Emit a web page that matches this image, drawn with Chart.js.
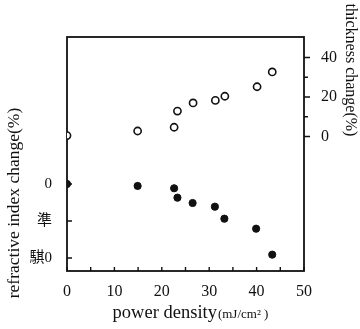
<!DOCTYPE html>
<html>
<head>
<meta charset="utf-8">
<script src="https://cdn.jsdelivr.net/npm/chart.js@4.4.0/dist/chart.umd.min.js"></script>
<style>
  html, body { margin:0; padding:0; background:#fff; }
  #wrap { width:360px; height:329px; }
</style>
</head>
<body>
<div id="wrap"><canvas id="c"></canvas></div>
<script>
// ── Data ─────────────────────────────────────────────────────
const powerThick = [0, 14.9, 22.6, 23.3, 26.6, 31.3, 33.3, 40.1, 43.3];
const thickness  = [0.5, 2.8, 4.7, 12.9, 17.0, 18.3, 20.4, 25.2, 32.7];

const powerIndex = [0, 14.9, 22.6, 23.3, 26.5, 31.2, 33.2, 39.9, 43.3];
const refIndex   = [0, -0.27, -0.58, -1.85, -2.57, -3.07, -4.69, -6.04, -9.55];

const xTicks      = [0, 10, 20, 30, 40, 50];
const leftTicks   = [0, -5, -10];
const leftLabels  = ['0', '準', '騏0'];
const rightTicks  = [0, 10, 20, 30, 40];

const SERIF = "'Liberation Serif','Noto Sans CJK SC',serif";
const INK   = '#111';

const toPts = (xs, ys) => xs.map((x, i) => ({ x, y: ys[i] }));

// frame, inward/outward tick marks and the axis titles
const decor = {
  id: 'decor',
  beforeDatasetsDraw(chart) {
    const { ctx, chartArea: a, scales } = chart;
    ctx.save();
    ctx.strokeStyle = INK;
    ctx.lineWidth = 1.8;
    ctx.strokeRect(a.left, a.top, a.right - a.left, a.bottom - a.top);

    ctx.lineWidth = 1.4;
    ctx.beginPath();
    for (let v = 0; v <= 50; v += 5) {
      const px = scales.x.getPixelForValue(v);
      ctx.moveTo(px, a.bottom); ctx.lineTo(px, a.bottom - 4);
    }
    leftTicks.forEach(v => {
      const py = scales.y.getPixelForValue(v);
      ctx.moveTo(a.left, py); ctx.lineTo(a.left + 5, py);
    });
    rightTicks.forEach(v => {
      const py = scales.y2.getPixelForValue(v);
      ctx.moveTo(a.right, py); ctx.lineTo(a.right + (v % 20 === 0 ? 6 : 4), py);
    });
    ctx.stroke();
    ctx.restore();
  },
  afterDraw(chart) {
    const { ctx } = chart;
    ctx.save();
    ctx.fillStyle = INK;
    ctx.textBaseline = 'middle';
    ctx.textAlign = 'center';

    ctx.font = "17.5px " + SERIF;
    ctx.save();
    ctx.translate(14, 203);
    ctx.rotate(-Math.PI / 2);
    ctx.fillText('refractive index change(%)', 0, 0);
    ctx.restore();

    ctx.font = "16px " + SERIF;
    ctx.save();
    ctx.translate(350, 70);
    ctx.rotate(Math.PI / 2);
    ctx.fillText('thickness change(%)', 0, 0);
    ctx.restore();

    // x title: two sizes like the print
    ctx.textAlign = 'left';
    ctx.font = "18.5px " + SERIF;
    const main = 'power density';
    const w1 = ctx.measureText(main).width;
    ctx.font = "13px " + SERIF;
    const unit = '(mJ/cm² )';
    const w2 = ctx.measureText(unit).width;
    const x0 = 190 - (w1 + w2) / 2;
    ctx.font = "18.5px " + SERIF;
    ctx.fillText(main, x0, 313);
    ctx.font = "13px " + SERIF;
    ctx.fillText(unit, x0 + w1 + 1, 315);
    ctx.restore();
  }
};

new Chart(document.getElementById('c'), {
  type: 'scatter',
  data: {
    datasets: [
      { label:'thickness', data: toPts(powerThick, thickness), yAxisID:'y2',
        pointRadius:3.6, pointBackgroundColor:'#fff', pointBorderColor:INK, pointBorderWidth:1.6 },
      { label:'refractive index', data: toPts(powerIndex, refIndex), yAxisID:'y',
        pointRadius:3.6, pointBackgroundColor:INK, pointBorderColor:INK, pointBorderWidth:1 }
    ]
  },
  options: {
    responsive:true, maintainAspectRatio:false, animation:false,
    layout:{ padding:{ top:37, left:0, right:0, bottom:0 } },
    plugins:{ legend:{display:false}, tooltip:{enabled:false} },
    scales:{
      x:{
        type:'linear', min:0, max:50,
        afterBuildTicks: s => { s.ticks = xTicks.map(v => ({ value:v })); },
        afterFit: s => { s.height = 58; },
        grid:{display:false}, border:{display:false},
        ticks:{ color:INK, padding:3, maxRotation:0, font:{ family:SERIF, size:16 } }
      },
      y:{
        position:'left', min:-11.76, max:19.86,
        afterBuildTicks: s => { s.ticks = leftTicks.map(v => ({ value:v })); },
        afterFit: s => { s.width = 67; },
        grid:{display:false}, border:{display:false},
        ticks:{ color:INK, padding:7, font:{ family:SERIF, size:15 },
          callback: v => leftLabels[leftTicks.indexOf(v)] }
      },
      y2:{
        position:'right', min:-68.1, max:50.4,
        afterBuildTicks: s => { s.ticks = rightTicks.map(v => ({ value:v })); },
        afterFit: s => { s.width = 56; },
        grid:{display:false}, border:{display:false},
        ticks:{ color:INK, padding:9, font:{ family:SERIF, size:16 },
          callback: v => (v % 20 === 0 ? v : '') }
      }
    }
  },
  plugins:[decor]
});
</script>
</body>
</html>
